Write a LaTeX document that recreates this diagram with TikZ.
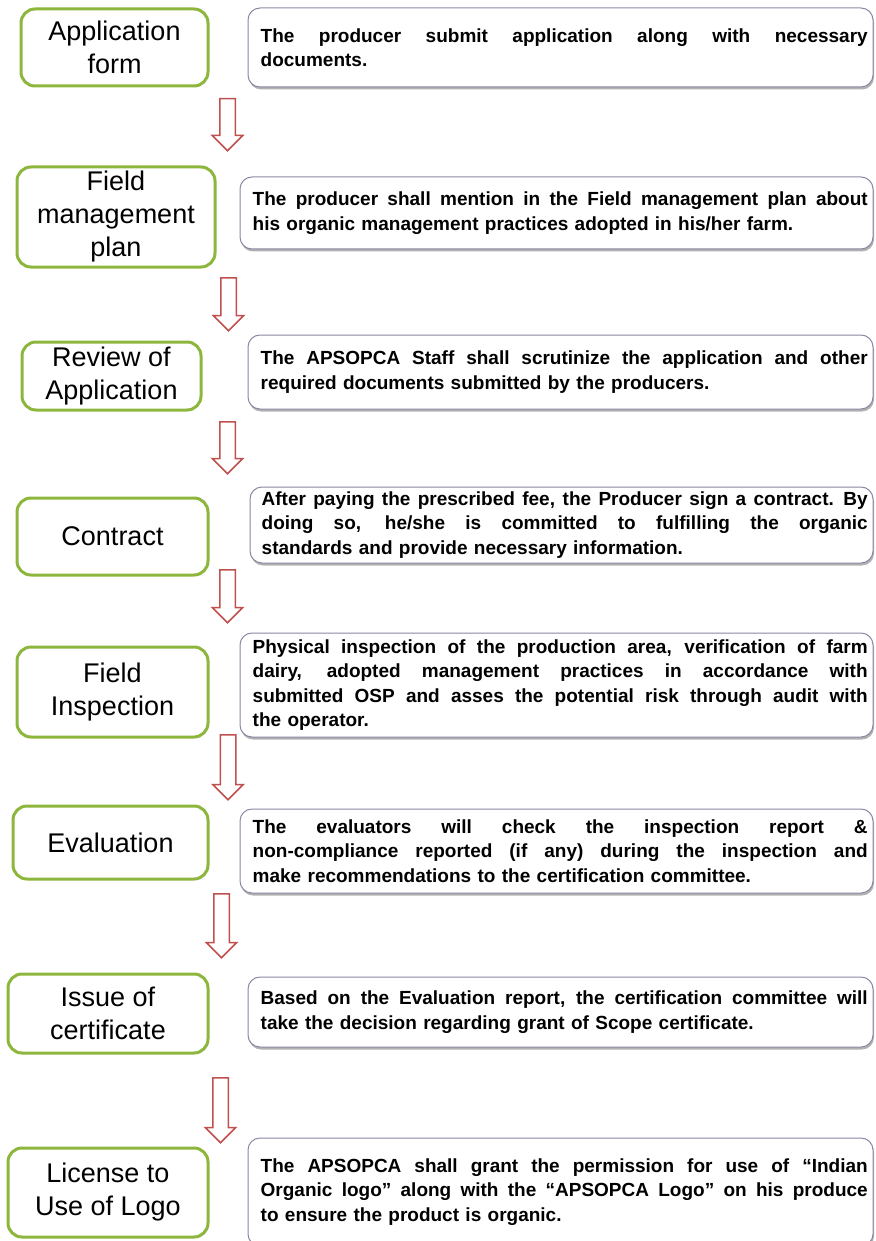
\documentclass[tikz,border=0pt]{standalone}
\usepackage{fontspec}
\setmainfont{Liberation Sans}
\usepackage{xcolor}
\usepackage{tikz}
\usetikzlibrary{shapes.arrows, shadows}

\definecolor{stepgreen}{RGB}{140,182,60}
\definecolor{arrowred}{RGB}{192,80,77}
\definecolor{descline}{RGB}{140,135,165}
\setlength{\parindent}{0pt}
% one justified line of a description
\newcommand{\jl}[1]{\makebox[\hsize][s]{\spaceskip=.3333em plus 10em\relax #1}}

\begin{document}
\begin{tikzpicture}[x=1pt,y=1pt,yscale=-1,xscale=1,
  stepbox/.style={draw=stepgreen, line width=3pt, rounded corners=14pt, fill=white,
    align=center, inner sep=0pt, font=\fontsize{27}{33}\selectfont},
  descbox/.style={draw=descline, line width=1pt, rounded corners=12pt, fill=white,
    minimum width=625pt, inner sep=0pt,
    drop shadow={shadow xshift=1pt, shadow yshift=-2.5pt, opacity=0.5, fill=black!60}},
  desctext/.style={anchor=west, align=left, inner sep=0pt,
    font=\bfseries\fontsize{19}{24.5}\selectfont},
  downarrow/.style={single arrow, draw=arrowred, fill=white, line width=1.5pt,
    inner xsep=0pt, inner ysep=7pt, text height=0pt, text depth=0pt,
    single arrow head extend=7.5pt, rotate=-90, anchor=tail}]
\useasboundingbox (0,0) rectangle (875,1241);

%Shape: Rounded Rect (steps)
\node[stepbox, minimum width=187pt, minimum height=77pt] (s1) at (114.5,47.5) {Application\\form};
\node[stepbox, minimum width=198pt, minimum height=100pt] (s2) at (116,217) {Field\\management\\plan};
\node[stepbox, minimum width=179pt, minimum height=68pt] (s3) at (111.5,376) {Review of\\Application};
\node[stepbox, minimum width=191pt, minimum height=77pt] (s4) at (112.5,536.5) {Contract};
\node[stepbox, minimum width=191pt, minimum height=90pt] (s5) at (112.5,692) {Field\\Inspection};
\node[stepbox, minimum width=195pt, minimum height=73pt] (s6) at (110.5,842.5) {Evaluation};
\node[stepbox, minimum width=200pt, minimum height=79pt] (s7) at (108,1013.5) {Issue of\\certificate};
\node[stepbox, minimum width=200pt, minimum height=89pt] (s8) at (108,1192.5) {License to\\Use of Logo};

%Shape: Rounded Rect (descriptions)
\node[descbox, minimum height=79pt] (d1) at (560.5,47.5) {};
\node[descbox, minimum width=633pt, minimum height=72pt] (d2) at (556.5,213) {};
\node[descbox, minimum height=74pt] (d3) at (560.5,372) {};
\node[descbox, minimum width=623pt, minimum height=76pt] (d4) at (561.5,525) {};
\node[descbox, minimum width=633pt, minimum height=104pt] (d5) at (556.5,685) {};
\node[descbox, minimum width=633pt, minimum height=84pt] (d6) at (556.5,851) {};
\node[descbox, minimum height=70pt] (d7) at (560.5,1012) {};
\node[descbox, minimum height=108pt] (d8) at (560.5,1192) {};

% Text Node
\node[desctext, text width=607pt] (t1) at ([xshift=13pt]d1.west)
  {\jl{The producer submit application along with necessary}\\documents.};
% Text Node
\node[desctext, text width=615pt] (t2) at ([xshift=13pt]d2.west)
  {\jl{The producer shall mention in the Field management plan about}\\his organic management practices adopted in his/her farm.};
% Text Node
\node[desctext, text width=607pt] (t3) at ([xshift=13pt]d3.west)
  {\jl{The APSOPCA Staff shall scrutinize the application and other}\\required documents submitted by the producers.};
% Text Node
\node[desctext, text width=606pt] (t4) at ([xshift=12pt]d4.west)
  {\jl{After paying the prescribed fee, the Producer sign a contract. By}\\
   \jl{doing so, he/she is committed to fulfilling the organic}\\
   standards and provide necessary information.};
% Text Node
\node[desctext, text width=615pt] (t5) at ([xshift=13pt]d5.west)
  {\jl{Physical inspection of the production area, verification of farm}\\
   \jl{dairy, adopted management practices in accordance with}\\
   \jl{submitted OSP and asses the potential risk through audit with}\\
   the operator.};
% Text Node
\node[desctext, text width=615pt] (t6) at ([xshift=13pt]d6.west)
  {\jl{The evaluators will check the inspection report \&}\\
   \jl{non-compliance reported (if any) during the inspection and}\\
   make recommendations to the certification committee.};
% Text Node
\node[desctext, text width=607pt] (t7) at ([xshift=13pt]d7.west)
  {\jl{Based on the Evaluation report, the certification committee will}\\take the decision regarding grant of Scope certificate.};
% Text Node
\node[desctext, text width=607pt] (t8) at ([xshift=13pt]d8.west)
  {\jl{The APSOPCA shall grant the permission for use of “Indian}\\
   \jl{Organic logo” along with the “APSOPCA Logo” on his produce}\\
   to ensure the product is organic.};

%Shape: Down Arrow
\node[downarrow, minimum height=52pt] (a1) at (227.5,98) {};
\node[downarrow, minimum height=53pt] (a2) at (228.5,277) {};
\node[downarrow, minimum height=52pt] (a3) at (227.5,421) {};
\node[downarrow, minimum height=53pt] (a4) at (227.5,569) {};
\node[downarrow, minimum height=65pt] (a5) at (228,734) {};
\node[downarrow, minimum height=64pt] (a6) at (221.5,893) {};
\node[downarrow, minimum height=65pt] (a7) at (220.5,1077) {};

\end{tikzpicture}
\end{document}
